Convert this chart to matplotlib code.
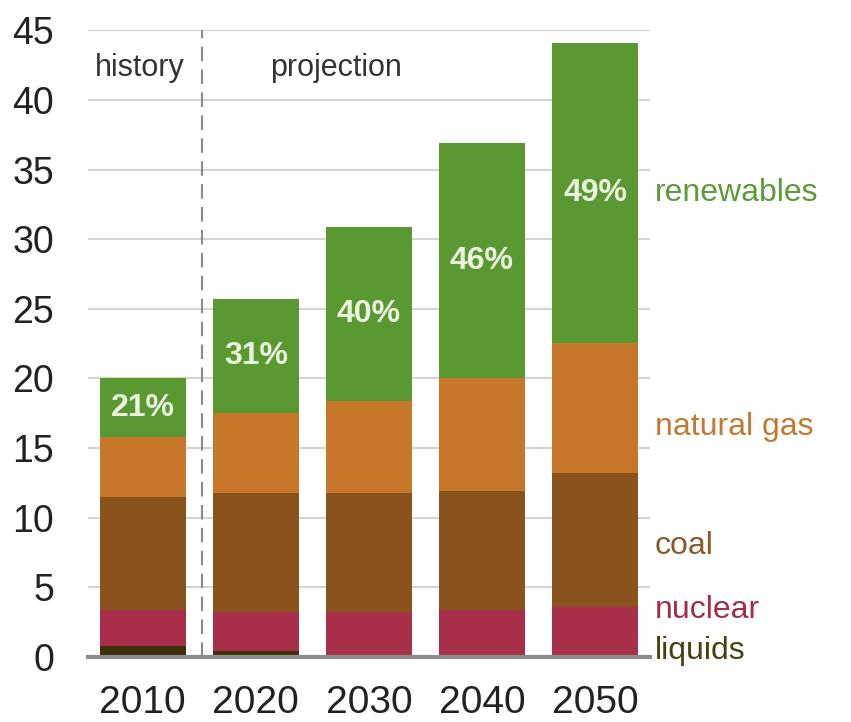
import numpy as np
import matplotlib
matplotlib.use('Agg')
import matplotlib.pyplot as plt

plt.rcParams['font.family'] = ['Liberation Sans', 'DejaVu Sans']

years = ['2010', '2020', '2030', '2040', '2050']
liquids = [0.8, 0.45, 0.15, 0.12, 0.12]
nuclear = [2.6, 2.75, 3.05, 3.28, 3.5]
coal = [8.1, 8.6, 8.6, 8.5, 9.6]
natural_gas = [4.3, 5.7, 6.6, 8.1, 9.3]
renewables = [4.2, 8.2, 12.5, 16.9, 21.6]
share_labels = ['21%', '31%', '40%', '46%', '49%']

series = [
    ('liquids', liquids, '#3e2f0c', '#4a3f12'),
    ('nuclear', nuclear, '#a8304a', '#a02f4b'),
    ('coal', coal, '#8a521d', '#8b5a2b'),
    ('natural gas', natural_gas, '#c6772a', '#c07a32'),
    ('renewables', renewables, '#5a9932', '#5c9a3a'),
]
label_y = {'liquids': 0.4, 'nuclear': 3.4, 'coal': 8.0,
           'natural gas': 16.5, 'renewables': 33.3}

fig = plt.figure(figsize=(8.51, 7.22), dpi=100)
ax = fig.add_axes([0.103, 0.090, 0.661, 0.868])

x = np.arange(len(years))
bottom = np.zeros(len(years))
for name, vals, col, tcol in series:
    vals = np.array(vals)
    ax.bar(x, vals, 0.76, bottom=bottom, color=col, edgecolor='none', zorder=3)
    ax.text(4.53, label_y[name], name, color=tcol, fontsize=23,
            ha='left', va='center', clip_on=False)
    bottom += vals

# renewable share labels in the middle of the green segment
ren_mid = bottom - np.array(renewables) / 2
for xi, yi, s in zip(x, ren_mid, share_labels):
    ax.text(xi, yi, s, color='#eaf4df', fontsize=23, fontweight='bold',
            ha='center', va='center', zorder=4)

ax.set_xlim(-0.487, 4.487)
ax.set_ylim(0, 45)
ax.set_yticks(np.arange(0, 46, 5))
ax.set_xticks(x)
ax.set_xticklabels(years)
ax.tick_params(axis='y', length=0, pad=24, labelsize=27, labelcolor='#222222')
ax.tick_params(axis='x', length=0, pad=20, labelsize=28, labelcolor='#222222')
ax.grid(axis='y', color='#d4d4d4', lw=1.5, zorder=0)
for sp in ['top', 'right', 'left']:
    ax.spines[sp].set_visible(False)
ax.spines['bottom'].set_color('#8c8c8c')
ax.spines['bottom'].set_linewidth(3)
ax.spines['bottom'].set_zorder(5)

ax.axvline(0.52, color='#8a8a8a', lw=1.5, ls=(0, (7, 4)), zorder=2)
ax.text(-0.03, 42.3, 'history', fontsize=22, color='#333333', ha='center', va='center')
ax.text(1.71, 42.3, 'projection', fontsize=22, color='#333333', ha='center', va='center')

fig.savefig('out.png', dpi=100)
